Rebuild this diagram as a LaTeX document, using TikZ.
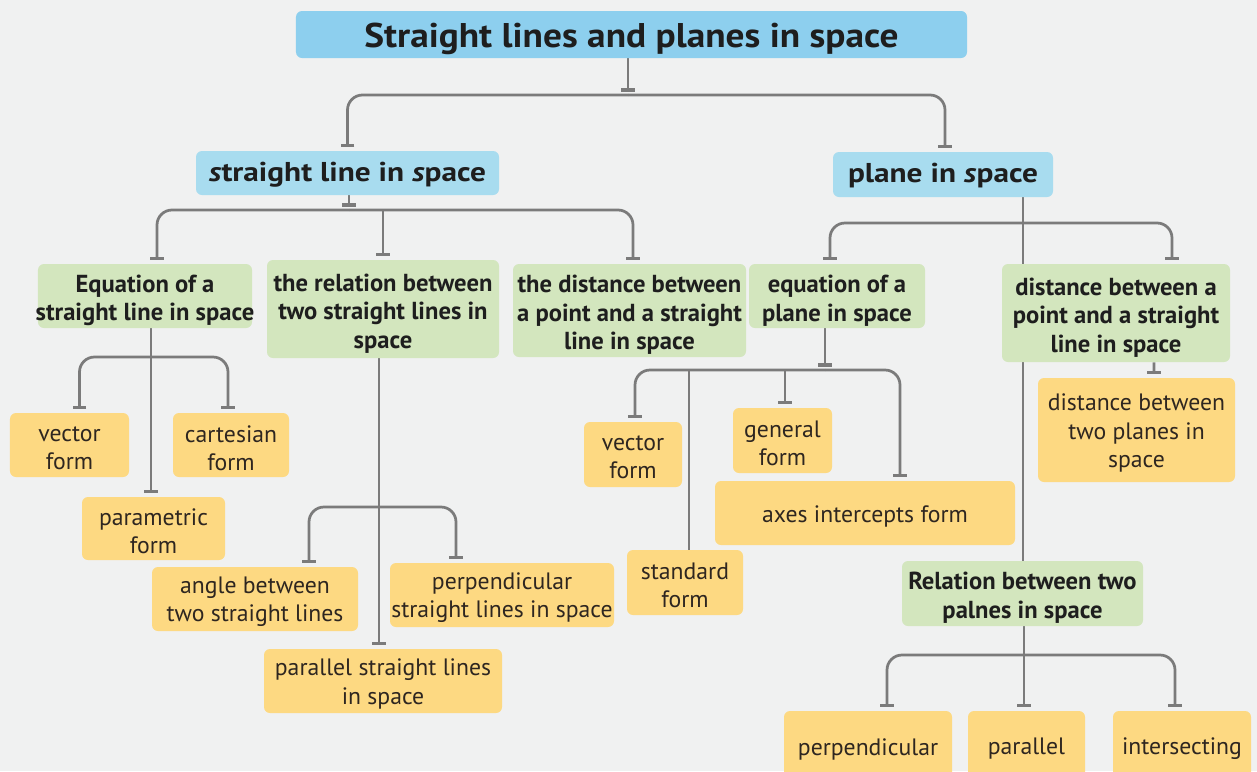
\documentclass[tikz,border=0pt]{standalone}
\usepackage{fontspec}
\setmainfont{PT Sans}
\newfontfamily\titlesans{PT Sans}[FakeStretch=1.09]
\newfontfamily\headsans{PT Sans}[FakeStretch=1.15]
\usetikzlibrary{arrows.meta,calc}
\pgfdeclarelayer{bg}
\pgfdeclarelayer{edges}
\pgfsetlayers{bg,edges,main}

\definecolor{canvas}{HTML}{F0F1F1}
\definecolor{titleblue}{HTML}{8DCFEE}
\definecolor{subblue}{HTML}{A8DCEF}
\definecolor{leafgreen}{HTML}{D3E6BE}
\definecolor{leafyellow}{HTML}{FDD982}
\definecolor{wire}{HTML}{7B7B7B}
\definecolor{ink}{HTML}{1E1E1E}
\definecolor{inkb}{HTML}{2E2620}

% box from its corners (pixel grid, y downwards); #6 picks the box style,
% whose text is set by the matching "<style> text" style
\newcommand\bx[7]{%
  \pgfmathsetmacro\cx{(#2+#4)/2}\pgfmathsetmacro\cy{(#3+#5)/2}%
  \pgfmathsetmacro\bw{(#4-#2)*0.02}\pgfmathsetmacro\bh{(#5-#3)*0.02}%
  \node[#6, minimum width=\bw cm, minimum height=\bh cm,
        label={[#6 text]center:{#7}}] (#1) at (\cx,\cy) {};}

\tikzset{
  anybox/.style={rounded corners=0.12cm, inner sep=0pt},
  anytext/.style={inner sep=0pt, align=center},
  tbox/.style={anybox, fill=titleblue},
  sbox/.style={anybox, fill=subblue},
  gbox/.style={anybox, fill=leafgreen},
  ybox/.style={anybox, fill=leafyellow},
  tbox text/.style={anytext, text=ink, yshift=-0.09cm,
    font=\titlesans\fontsize{19.5}{22}\selectfont\bfseries},
  sbox text/.style={anytext, text=ink, yshift=-0.03cm,
    font=\headsans\fontsize{15.5}{19}\selectfont\bfseries},
  gbox text/.style={anytext, text=ink, yshift=-0.09cm,
    font=\fontsize{14}{16.3}\selectfont\bfseries},
  ybox text/.style={anytext, text=inkb, yshift=-0.06cm,
    font=\fontsize{13.5}{16}\selectfont},
  link/.style={draw=wire, line width=0.055cm, rounded corners=0.3cm},
  tee/.style={-{Bar[width=0.27cm, line width=0.07cm]}, shorten >=0.07cm},
}

\begin{document}
\begin{tikzpicture}[x=0.02cm, y=-0.02cm]
\useasboundingbox (0,0) rectangle (1257,771);
\clip (0,0) rectangle (1257,771);
\begin{pgfonlayer}{bg}
  \fill[canvas] (0,0) rectangle (1257,771);
\end{pgfonlayer}

% --- nodes ---
\bx{title}{296}{11}{967}{58}{tbox}{Straight lines and planes in space}
\bx{sline}{196}{151}{499}{195}{sbox}{\textit{s}traight line in \textit{s}pace}
\bx{plane}{833}{152}{1053}{197}{sbox}{plane in \textit{s}pace}

\bx{eqline}{38}{264}{252}{328}{gbox}{Equation of a\\straight line in space}
\bx{rel}{267}{260}{499}{358}{gbox}{the relation between\\two straight lines in\\space}
\bx{dist}{513}{264}{746}{357}{gbox}{the distance between\\a point and a straight\\line in space}
\bx{eqplane}{749}{264}{925}{328}{gbox}{equation of a\\plane in space}
\bx{distp}{1002}{264}{1230}{362}{gbox}{distance between a\\point and a straight\\line in space}
\bx{relp}{902}{561}{1143}{626}{gbox}{Relation between two\\palnes in space}

\bx{vecl}{10}{413}{129}{477}{ybox}{vector\\form}
\bx{cart}{173}{413}{289}{477}{ybox}{cartesian\\form}
\bx{param}{82}{497}{225}{560}{ybox}{parametric\\form}
\bx{angle}{152}{567}{358}{631}{ybox}{angle between\\two straight lines}
\bx{perpl}{390}{563}{614}{627}{ybox}{perpendicular\\straight lines in space}
\bx{parl}{264}{649}{502}{713}{ybox}{parallel straight lines\\in space}
\bx{vecp}{584}{422}{682}{487}{ybox}{vector\\form}
\bx{gen}{733}{408}{832}{473}{ybox}{general\\form}
\bx{axes}{715}{481}{1015}{545}{ybox}{axes intercepts form}
\bx{std}{627}{550}{743}{615}{ybox}{standard\\form}
\bx{twopl}{1038}{378}{1235}{482}{ybox}{distance between\\two planes in\\space}
\bx{perp}{784}{711}{952}{781}{ybox}{perpendicular}
\bx{para}{968}{711}{1085}{781}{ybox}{parallel}
\bx{inter}{1113}{711}{1251}{781}{ybox}{intersecting}

% --- junction points on the bars ---
\coordinate (j0) at (628,95);
\coordinate (j1) at (349,210);
\coordinate (j2) at (151,357);
\coordinate (j3) at (379,507);
\coordinate (j4) at (1023,223);
\coordinate (j5) at (825,370);
\coordinate (j6) at (1024,655);

% --- connectors ---
\begin{pgfonlayer}{edges}
  % top level
  \draw[link, tee] (title.south -| j0) -- (j0);
  \draw[link, tee] (j0) -| (sline.north);
  \draw[link, tee] (j0) -| ($(plane.north)+(2,0)$);

  % straight line in space
  \draw[link, tee] (sline.south -| j1) -- (j1);
  \draw[link, tee] (j1) -| ($(eqline.north)+(12,0)$);
  \draw[link, tee] (j1) -| ($(dist.north)+(3.5,0)$);
  \draw[link, tee] (rel.north |- j1) -- (rel.north);

  % equation of a straight line
  \draw[link, tee] (eqline.south -| j2) -- (param.north -| j2);
  \draw[link, tee] (j2) -| ($(vecl.north)+(10,0)$);
  \draw[link, tee] (j2) -| ($(cart.north)+(-3,0)$);

  % relation between two straight lines
  \draw[link, tee] (rel.south -| j3) -- (parl.north -| j3);
  \draw[link, tee] (j3) -| ($(angle.north)+(54,0)$);
  \draw[link, tee] (j3) -| ($(perpl.north)+(-46,0)$);

  % plane in space
  \draw[link] (plane.south -| j4) -- (relp.north -| j4);
  \draw[link, tee] (j4) -| ($(eqplane.north)+(-7,0)$);
  \draw[link, tee] (j4) -| ($(distp.north)+(56,0)$);
  \draw[link, tee] ($(distp.south)+(38,0)$) -- ($(twopl.north)+(17.5,0)$);

  % equation of a plane
  \draw[link, tee] (eqplane.south -| j5) -- (j5);
  \draw[link, tee] (j5) -| ($(vecp.north)+(2,0)$);
  \draw[link, tee] (j5) -| ($(axes.north)+(35,0)$);
  \draw[link] ($(std.north |- j5)+(4,0)$) -- ($(std.north)+(4,0)$);
  \draw[link, tee] ($(gen.north |- j5)+(2.5,0)$) -- ($(gen.north)+(2.5,0)$);

  % relation between two planes
  \draw[link, tee] (relp.south -| j6) -- (para.north -| j6);
  \draw[link, tee] (j6) -| ($(perp.north)+(19,0)$);
  \draw[link, tee] (j6) -| ($(inter.north)+(-7,0)$);
\end{pgfonlayer}
\end{tikzpicture}
\end{document}
